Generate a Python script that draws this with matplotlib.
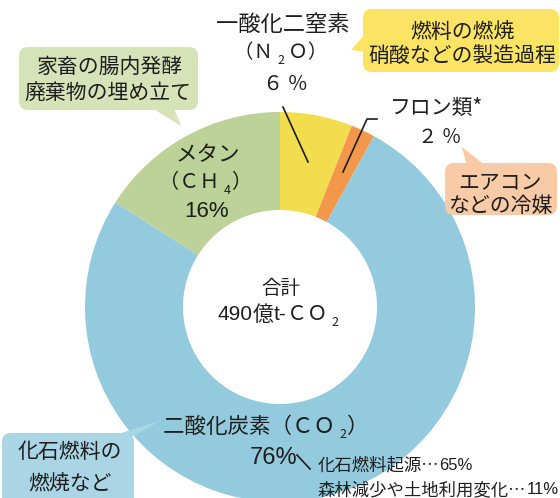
import matplotlib
matplotlib.use("Agg")
import matplotlib.pyplot as plt
from matplotlib import font_manager
from matplotlib.patches import FancyBboxPatch, Polygon

JP = 'Noto Sans CJK JP'
plt.rcParams['font.family'] = [JP, 'DejaVu Sans']
installed = {f.name for f in font_manager.fontManager.ttflist}
NARROW = 'Liberation Sans Narrow' if 'Liberation Sans Narrow' in installed else 'Liberation Sans'

# data
gases = ["一酸化二窒素", "フロン類", "二酸化炭素", "メタン"]
shares = [6, 2, 76, 16]
slice_colors = ["#F2DD4E", "#F3974A", "#93CADD", "#BCD298"]
co2_parts = ["化石燃料起源", "森林減少や土地利用変化"]
co2_part_shares = [65, 11]
total_label = "490"

W, H = 560, 498
TXT = "#1E1E1E"


def Y(y):
    # pixel row (from top) -> data y
    return H - y


fig = plt.figure(figsize=(W / 100, H / 100), dpi=100)
ax = fig.add_axes([0, 0, 1, 1])

ax.pie(shares, colors=slice_colors, radius=195, center=(280, Y(307)),
       startangle=90, counterclock=False,
       wedgeprops=dict(width=98, edgecolor='none'))
ax.set_xlim(0, W)
ax.set_ylim(0, H)
ax.set_aspect('equal')
ax.axis('off')
renderer = fig.canvas.get_renderer()


def callout(x0, y0, x1, y1, tail, color):
    box = FancyBboxPatch((x0, Y(y1)), x1 - x0, y1 - y0,
                         boxstyle="round,pad=0,rounding_size=9",
                         facecolor=color, edgecolor='none', zorder=2)
    ax.add_patch(box)
    ax.add_patch(Polygon([(px, Y(py)) for px, py in tail], closed=True,
                         facecolor=color, edgecolor='none', zorder=2))


def seq(x, y, parts, ha='center'):
    # parts: (text, size, dy, family) drawn one after another
    objs = []
    for s, size, dy, fam in parts:
        t = ax.text(0, Y(y + dy), s, fontsize=size, ha='left', va='center',
                    color=TXT, zorder=4, family=[fam, JP, 'DejaVu Sans'])
        objs.append(t)
    widths = [t.get_window_extent(renderer).width for t in objs]
    total = sum(widths)
    if ha == 'center':
        cur = x - total / 2
    elif ha == 'right':
        cur = x - total
    else:
        cur = x
    for t, w in zip(objs, widths):
        t.set_x(cur)
        cur += w


def txt(x, y, s, size=15, ha='center'):
    seq(x, y, [(s, size, 0, JP)], ha)


# callout boxes
callout(19, 47, 198, 110, [(152, 108), (174, 108), (181, 126)], "#D6E2B7")
callout(363, 9, 559, 72, [(366, 33), (366, 52), (351, 50)], "#FBE363")
callout(445, 163, 557, 215, [(467, 166), (486, 166), (462, 147)], "#F8CAA5")
callout(2, 433, 134, 505, [(112, 436), (134, 436), (162, 420)], "#A9D5E5")

# leader lines
ax.plot([283, 308], [Y(107), Y(162)], color=TXT, lw=1.2, zorder=3)
ax.plot([377, 367, 343], [Y(119), Y(119), Y(172)], color=TXT, lw=1.2, zorder=3)
ax.plot([297, 310], [Y(455), Y(469)], color=TXT, lw=1.2, zorder=3)

# callout texts
txt(110, 67, "家畜の腸内発酵", 15)
txt(108, 93, "廃棄物の埋め立て", 15)
txt(462, 32, "燃料の燃焼", 15)
txt(462, 56, "硝酸などの製造過程", 15)
txt(500, 182, "エアコン", 15)
txt(500, 206, "などの冷媒", 15)
txt(70, 452, "化石燃料の", 15)
txt(70, 484, "燃焼など", 15)

# N2O
txt(283, 24, gases[0], 16)
seq(281, 53, [("（Ｎ ", 14, 0, JP), ("2", 9, 7, JP), (" Ｏ）", 14, 0, JP)])
txt(285, 84, "６ ％", 14.5)

# fluorocarbons
txt(437, 108, gases[1] + "*", 15)
txt(440, 137, "２ ％", 14)

# methane
txt(208, 155, gases[3], 15.5)
seq(205, 183, [("（ＣＨ ", 14.5, 0, JP), ("4", 9, 7, JP), ("）", 14.5, 0, JP)])
seq(207, 211, [(f"{shares[3]}%", 16, 0, NARROW)])

# total
txt(281, 289, "合計", 14)
seq(218, 315, [(total_label, 15, 0, NARROW), ("億", 15, 0, JP),
               ("t-", 15, 0, NARROW), ("ＣＯ ", 14.5, 0, JP),
               ("2", 9, 7, JP)], ha='left')

# CO2
seq(163, 427, [(gases[2] + "（ＣＯ ", 15.5, 0, JP), ("2", 9, 8, JP),
               ("）", 15.5, 0, JP)], ha='left')
seq(250, 458, [(f"{shares[2]}%", 17, 0, NARROW)], ha='left')
for i, (name, v) in enumerate(zip(co2_parts, co2_part_shares)):
    seq(318, 465 + 25 * i, [(name + "…", 12.5, 0, JP),
                            (f"{v}%", 12, 0, NARROW)], ha='left')

fig.savefig("out.png", dpi=100)
